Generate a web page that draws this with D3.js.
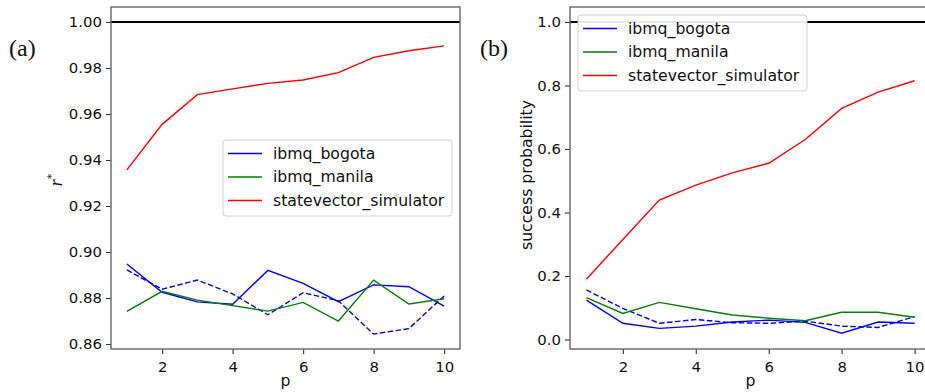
<!DOCTYPE html>
<html><head><meta charset="utf-8">
<script src="https://cdn.jsdelivr.net/npm/d3@7"></script>
<style>body{margin:0;background:#fff}svg{display:block}</style>
</head><body>
<svg id="chart" width="925" height="392"></svg>
<script>
const pValues = [1,2,3,4,5,6,7,8,9,10];
const xTicks = [2,4,6,8,10];
const seriesNames = ["ibmq_bogota","ibmq_manila","statevector_simulator"];
const seriesColors = ["#0000ff","#008000","#ff0000"];

// panel (a): r*
const rBogota =      [0.8948,0.8825,0.8783,0.8773,0.8920,0.8864,0.8784,0.8857,0.8849,0.8765];
const rBogotaDash =  [0.8922,0.8838,0.8878,0.8818,0.8727,0.8823,0.8788,0.8643,0.8667,0.8809];
const rManila =      [0.8742,0.8829,0.8791,0.8767,0.8743,0.8781,0.8700,0.8878,0.8774,0.8797];
const rSimulator =   [0.9357,0.9555,0.9684,0.9709,0.9733,0.9748,0.9780,0.9846,0.9875,0.9896];
const rTicks = [0.86,0.88,0.90,0.92,0.94,0.96,0.98,1.00];

// panel (b): success probability
const sBogota =      [0.124,0.051,0.035,0.042,0.055,0.061,0.054,0.020,0.055,0.051];
const sBogotaDash =  [0.156,0.098,0.051,0.063,0.053,0.051,0.058,0.042,0.038,0.072];
const sManila =      [0.132,0.082,0.117,0.097,0.077,0.067,0.059,0.086,0.086,0.070];
const sSimulator =   [0.190,0.315,0.439,0.486,0.525,0.555,0.630,0.728,0.779,0.815];
const sTicks = [0.0,0.2,0.4,0.6,0.8,1.0];

const svg = d3.select("#chart");
const FONT = "'DejaVu Sans', sans-serif";
const SERIF = "'Liberation Serif', 'DejaVu Serif', serif";

function panel(o){
  const g = svg.append("g");
  const x = d3.scaleLinear().domain([0.55,10.45]).range([o.left,o.right]);
  const y = d3.scaleLinear().domain(o.ydomain).range([o.bottom,o.top]);
  const clipId = "clip"+o.id;
  svg.append("clipPath").attr("id",clipId).append("rect")
    .attr("x",o.left).attr("y",o.top).attr("width",o.right-o.left).attr("height",o.bottom-o.top);

  const xa = g.append("g").attr("transform",`translate(0,${o.bottom})`)
    .call(d3.axisBottom(x).tickValues(xTicks).tickSize(5).tickPadding(4).tickFormat(d3.format("d")));
  const ya = g.append("g").attr("transform",`translate(${o.left},0)`)
    .call(d3.axisLeft(y).tickValues(o.yticks).tickSize(5).tickPadding(4).tickFormat(d3.format(o.yfmt)));
  [xa,ya].forEach(a=>{
    a.select(".domain").remove();
    a.selectAll("line").attr("stroke","#333").attr("stroke-width",1.1);
    a.selectAll("text").attr("font-family",FONT).attr("font-size",14.9).attr("fill","#111");
  });
  xa.selectAll("text").attr("dy","0.95em");

  const plot = g.append("g").attr("clip-path",`url(#${clipId})`);
  plot.append("line").attr("x1",o.left).attr("x2",o.right)
    .attr("y1",y(1)).attr("y2",y(1)).attr("stroke","#000").attr("stroke-width",2);

  const line = d3.line().x((d,i)=>x(pValues[i])).y(d=>y(d));
  const series = [
    {v:o.data[0],c:seriesColors[0],dash:null},
    {v:o.data[1],c:seriesColors[0],dash:"5.5,2.5"},
    {v:o.data[2],c:seriesColors[1],dash:null},
    {v:o.data[3],c:seriesColors[2],dash:null}
  ];
  series.forEach(s=>{
    plot.append("path").attr("d",line(s.v)).attr("fill","none")
      .attr("stroke",s.c).attr("stroke-width",1.4)
      .attr("stroke-dasharray",s.dash);
  });

  g.append("rect").attr("x",o.left).attr("y",o.top)
    .attr("width",o.right-o.left).attr("height",o.bottom-o.top)
    .attr("fill","none").attr("stroke","#666").attr("stroke-width",1.4);

  const lg = g.append("g").attr("transform",`translate(${o.lx},${o.ly})`);
  lg.append("rect").attr("width",229).attr("height",76).attr("rx",3)
    .attr("fill","#fff").attr("fill-opacity",0.9).attr("stroke","#d0d0d0").attr("stroke-width",1);
  seriesNames.forEach((n,i)=>{
    const cy = 13.5 + i*23.5;
    lg.append("line").attr("x1",5).attr("x2",39).attr("y1",cy).attr("y2",cy)
      .attr("stroke",seriesColors[i]).attr("stroke-width",1.4);
    lg.append("text").attr("x",50).attr("y",cy).attr("dy","0.35em")
      .attr("font-family",FONT).attr("font-size",15.7).attr("fill","#111").text(n);
  });

  g.append("text").attr("x",(o.left+o.right)/2).attr("y",386)
    .attr("text-anchor","middle").attr("font-family",FONT).attr("font-size",15.7).attr("fill","#111").text("p");

  g.append("text").attr("x",o.tagx).attr("y",56).attr("font-family",SERIF)
    .attr("font-size",24).attr("fill","#111").text(o.tag);
  return {x,y,g};
}

panel({id:"a",left:111,right:460,top:7,bottom:349,ydomain:[0.85783,1.00652],
  yticks:rTicks,yfmt:".2f",data:[rBogota,rBogotaDash,rManila,rSimulator],
  lx:223,ly:140,tag:"(a)",tagx:9});
panel({id:"b",left:570,right:931,top:7,bottom:349,ydomain:[-0.0299,1.0472],
  yticks:sTicks,yfmt:".1f",data:[sBogota,sBogotaDash,sManila,sSimulator],
  lx:578,ly:15,tag:"(b)",tagx:480});

const yl = svg.append("text").attr("transform","translate(62,180) rotate(-90)")
  .attr("text-anchor","middle").attr("fill","#111");
yl.append("tspan").attr("font-family",SERIF).attr("font-style","italic").attr("font-size",18).text("r");
yl.append("tspan").attr("font-family",FONT).attr("font-size",11).attr("dy",-7).text("*");

svg.append("text").attr("transform","translate(532,175) rotate(-90)")
  .attr("text-anchor","middle").attr("font-family",FONT).attr("font-size",15.7).attr("fill","#111")
  .text("success probability");
</script>
</body></html>
